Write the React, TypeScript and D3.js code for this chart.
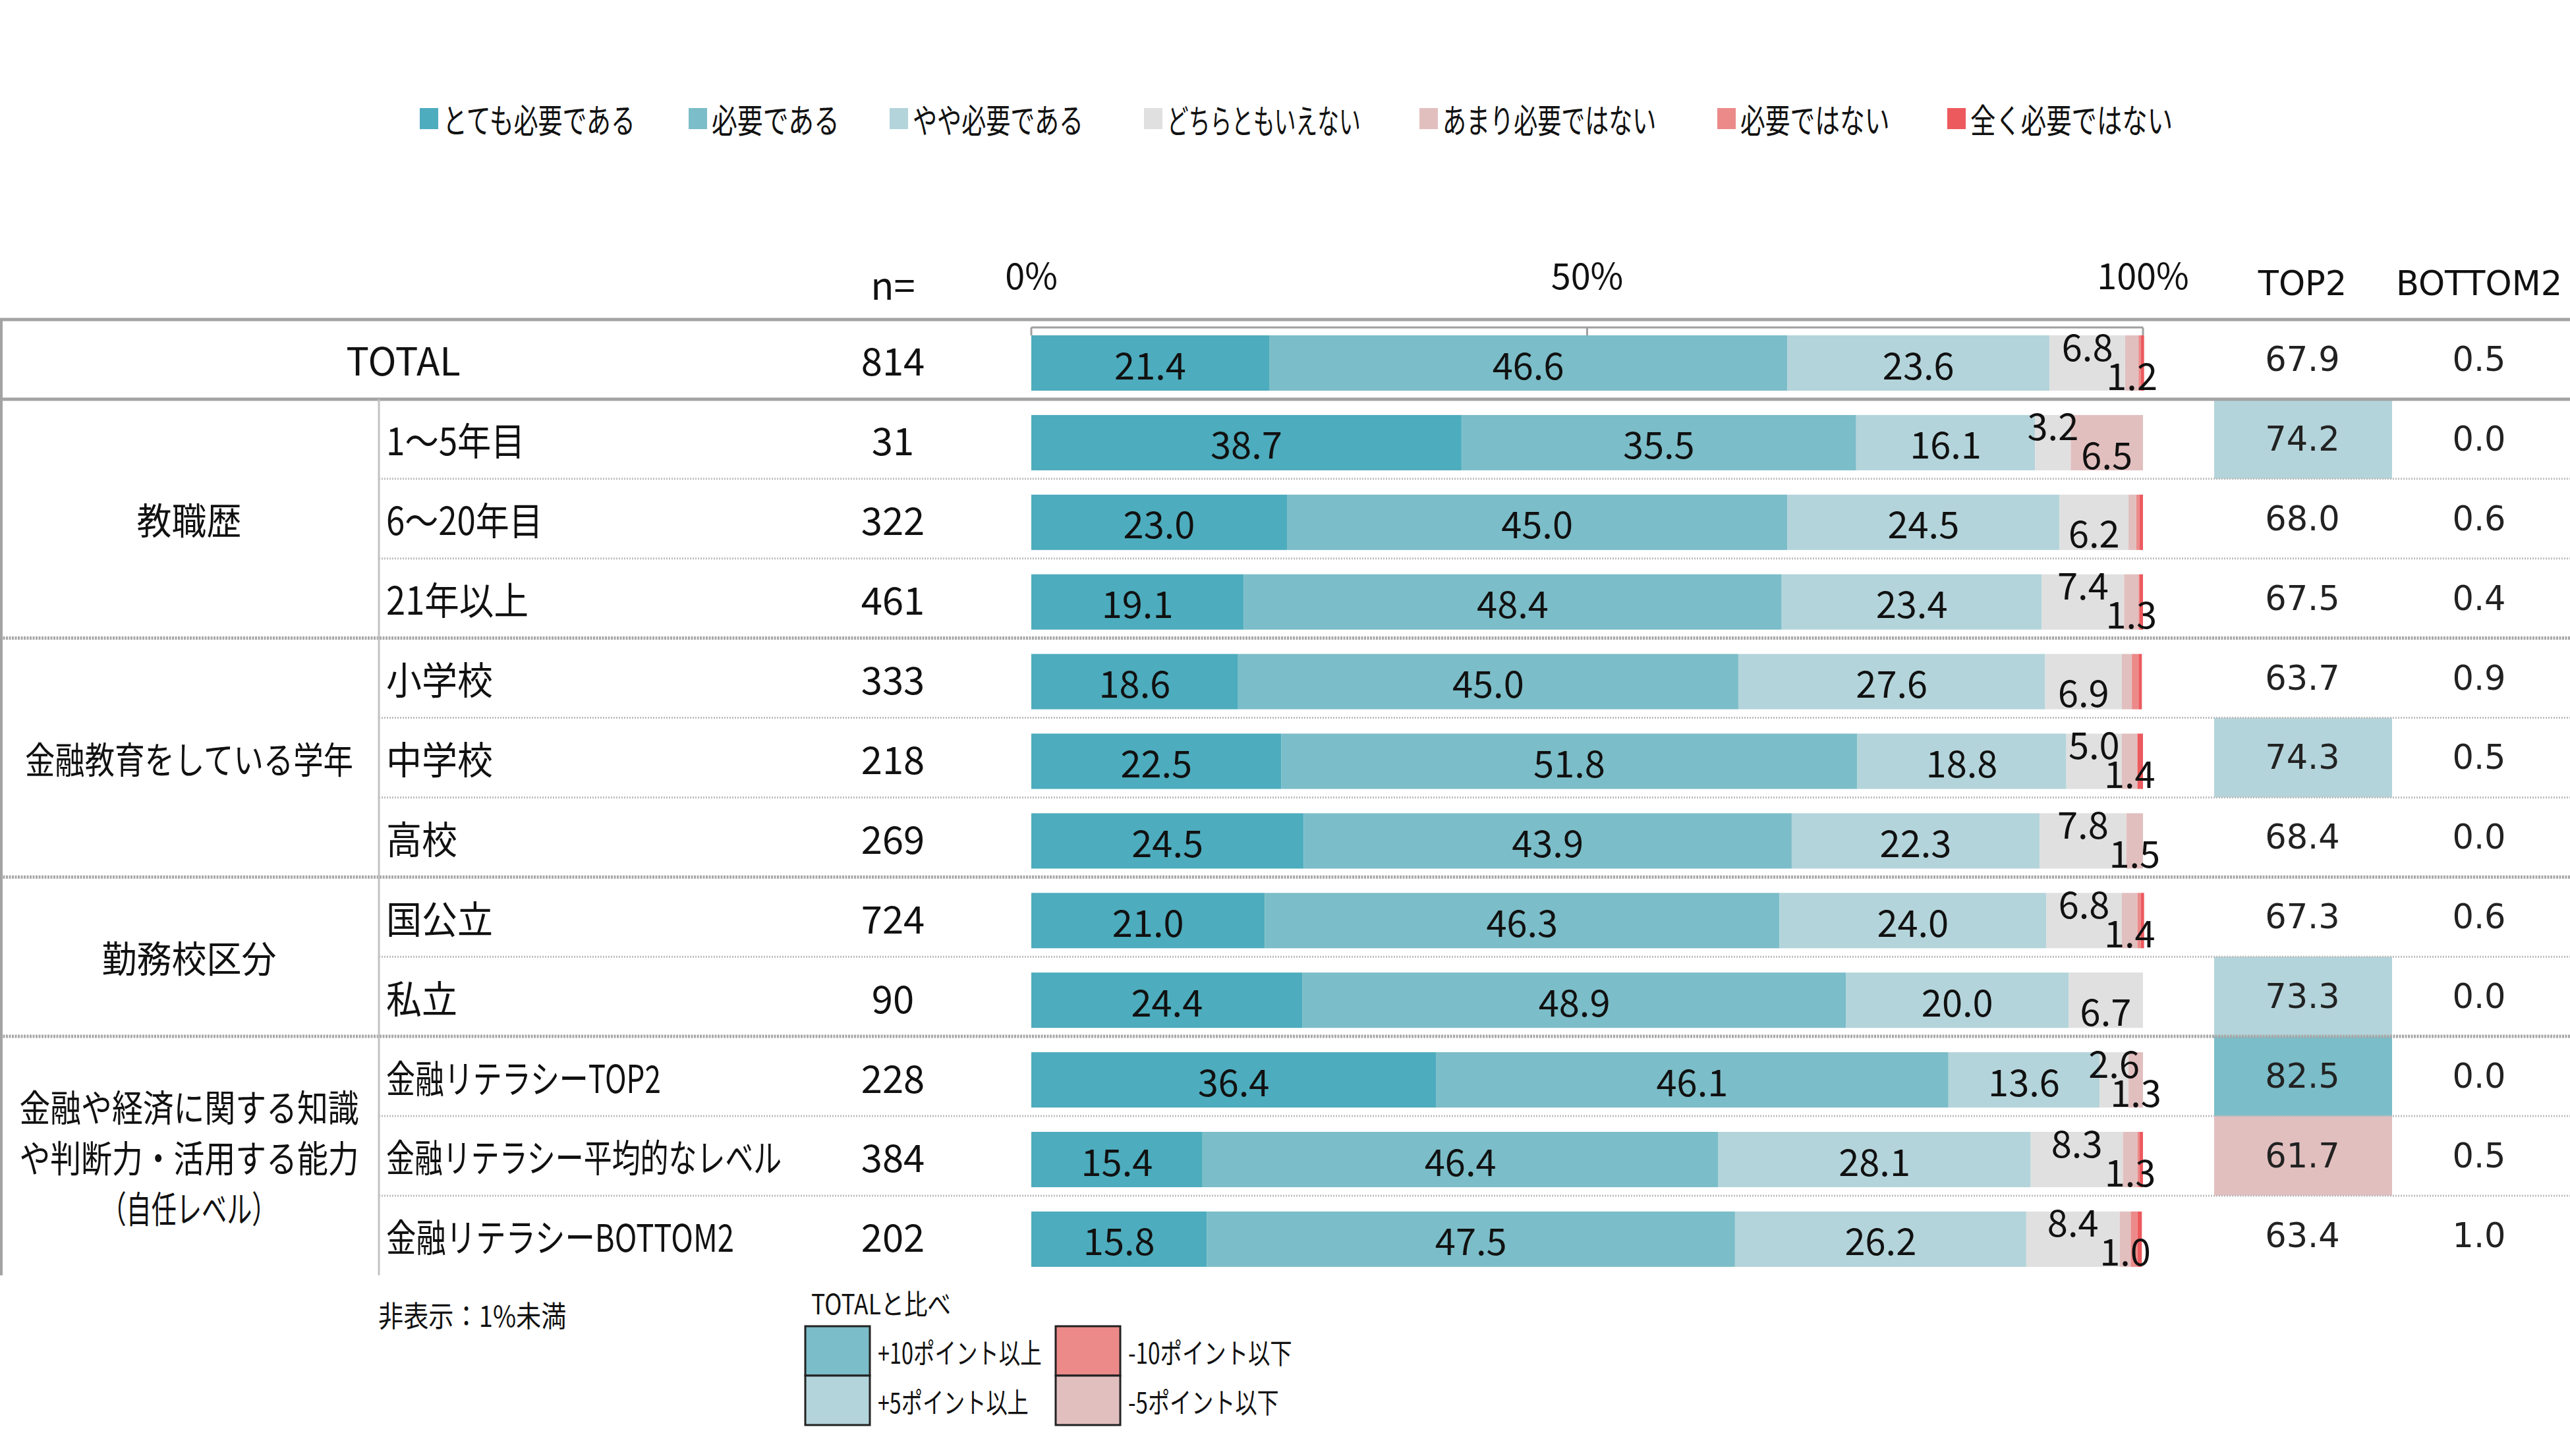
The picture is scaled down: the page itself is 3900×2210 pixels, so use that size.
import React, { useEffect, useLayoutEffect, useRef } from 'react';
import * as d3 from 'd3';

// ---------- DATA ----------
const categories = [
  'TOTAL',
  '1～5年目',
  '6～20年目',
  '21年以上',
  '小学校',
  '中学校',
  '高校',
  '国公立',
  '私立',
  '金融リテラシーTOP2',
  '金融リテラシー平均的なレベル',
  '金融リテラシーBOTTOM2',
];
const nValues = [814, 31, 322, 461, 333, 218, 269, 724, 90, 228, 384, 202];

const seriesNames = [
  'とても必要である',
  '必要である',
  'やや必要である',
  'どちらともいえない',
  'あまり必要ではない',
  '必要ではない',
  '全く必要ではない',
];
const veryNeeded = [21.4, 38.7, 23.0, 19.1, 18.6, 22.5, 24.5, 21.0, 24.4, 36.4, 15.4, 15.8];
const needed = [46.6, 35.5, 45.0, 48.4, 45.0, 51.8, 43.9, 46.3, 48.9, 46.1, 46.4, 47.5];
const somewhatNeeded = [23.6, 16.1, 24.5, 23.4, 27.6, 18.8, 22.3, 24.0, 20.0, 13.6, 28.1, 26.2];
const neutral = [6.8, 3.2, 6.2, 7.4, 6.9, 5.0, 7.8, 6.8, 6.7, 2.6, 8.3, 8.4];
const notVery = [1.2, 6.5, 0.7, 1.3, 0.9, 1.4, 1.5, 1.4, 0.0, 1.3, 1.3, 1.0];
const notNeeded = [0.2, 0.0, 0.3, 0.1, 0.6, 0.0, 0.0, 0.3, 0.0, 0.0, 0.2, 0.6];
const notAtAll = [0.3, 0.0, 0.3, 0.3, 0.3, 0.5, 0.0, 0.3, 0.0, 0.0, 0.3, 0.4];
const seriesValues = [veryNeeded, needed, somewhatNeeded, neutral, notVery, notNeeded, notAtAll];

const top2 = [67.9, 74.2, 68.0, 67.5, 63.7, 74.3, 68.4, 67.3, 73.3, 82.5, 61.7, 63.4];
const bottom2 = [0.5, 0.0, 0.6, 0.4, 0.9, 0.5, 0.0, 0.6, 0.0, 0.0, 0.5, 1.0];

const axisTicks = [0, 50, 100];

const groups = [
  { lines: ['教職歴'], start: 1, end: 3 },
  { lines: ['金融教育をしている学年'], start: 4, end: 6 },
  { lines: ['勤務校区分'], start: 7, end: 8 },
  { lines: ['金融や経済に関する知識', 'や判断力・活用する能力', '（自任レベル）'], start: 9, end: 11 },
];

const compareLegend = [
  { label: '+10ポイント以上', kind: 'p10' },
  { label: '+5ポイント以上', kind: 'p5' },
  { label: '-10ポイント以下', kind: 'm10' },
  { label: '-5ポイント以下', kind: 'm5' },
];

// ---------- STYLE ----------
const colors = ['#4DACBD', '#7BBDC8', '#B3D4DA', '#E0E0E0', '#E2BFBF', '#EC8A8A', '#EC5A5E'];
const highlightColors: Record<string, string> = {
  p10: '#7BBDC8',
  p5: '#B3D4DA',
  m10: '#EC8A8A',
  m5: '#E2BFBF',
};
const JP = '"Noto Sans CJK JP", "Noto Sans", sans-serif';
const DV = '"DejaVu Sans", sans-serif';

const W = 3900;
const H = 2210;
const tableTop = 485;
const rowH = 120.9;
const tableBottom = tableTop + rowH * categories.length;

// approximate width (in em) of a string in a condensed UI font with proportional kana
function emWidth(s: string): number {
  let w = 0;
  for (const ch of s) {
    const c = ch.codePointAt(0)!;
    if ((c >= 0x3040 && c <= 0x30ff) || ch === 'ー') w += 0.68;
    else if (ch === '・' || ch === '：' || ch === '（' || ch === '）') w += 0.5;
    else if (ch === '～') w += 0.9;
    else if (c >= 0x3000) w += 1.0;
    else if (ch === '%') w += 0.8;
    else if (ch === 'M') w += 0.8;
    else if (ch === 'O') w += 0.7;
    else if (/[A-Z]/.test(ch)) w += 0.56;
    else w += 0.5;
  }
  return w;
}

// Text that is squeezed horizontally (after measuring) to a target width
function JText(props: {
  x: number;
  y: number;
  size: number;
  wsize?: number;
  anchor?: 'start' | 'middle' | 'end';
  children: string;
}) {
  const len = emWidth(props.children) * (props.wsize || props.size);
  return (
    <text
      x={props.x}
      y={props.y}
      textAnchor={props.anchor || 'start'}
      dominantBaseline="central"
      fontFamily={JP}
      fontSize={props.size}
      fill="#111"
      data-tw={len}
      data-tx={props.x}
    >
      {props.children}
    </text>
  );
}

export default function App() {
  const svgRef = useRef<SVGSVGElement>(null);

  useEffect(() => {
    document.body.style.margin = '0';
  }, []);

  useLayoutEffect(() => {
    if (!svgRef.current) return;
    d3.select(svgRef.current)
      .selectAll<SVGTextElement, unknown>('text[data-tw]')
      .each(function () {
        const el = this;
        const target = +el.getAttribute('data-tw')!;
        const tx = +el.getAttribute('data-tx')!;
        const natural = el.getComputedTextLength();
        if (natural > 0) {
          const s = target / natural;
          el.setAttribute('transform', `translate(${tx},0) scale(${s},1) translate(${-tx},0)`);
        }
      });
  });

  const x = d3.scaleLinear().domain([0, 100]).range([1565, 3252]);
  const y = d3
    .scaleBand<number>()
    .domain(d3.range(categories.length))
    .range([tableTop, tableBottom])
    .padding(0);

  const table = categories.map((c, i) => {
    const row: any = { idx: i };
    seriesNames.forEach((s, k) => (row[s] = seriesValues[k][i]));
    return row;
  });
  const stacked = d3.stack<any>().keys(seriesNames)(table);

  const barOff = 24;
  const barH = 84;

  const classify = (i: number) => {
    const d = top2[i] - top2[0];
    if (i === 0) return null;
    if (d >= 10) return 'p10';
    if (d >= 5) return 'p5';
    if (d <= -10) return 'm10';
    if (d <= -5) return 'm5';
    return null;
  };

  const legendX = [637, 1045, 1350, 1736, 2154, 2606, 2955];
  const groupStarts = new Set(groups.map((g) => g.start));

  return (
    <svg
      ref={svgRef}
      width={W}
      height={H}
      viewBox={`0 0 ${W} ${H}`}
      style={{ display: 'block', background: '#fff' }}
    >
      {/* Legend */}
      {seriesNames.map((s, k) => (
        <g key={s}>
          <rect x={legendX[k]} y={164} width={28} height={32} fill={colors[k]} />
          <JText x={legendX[k] + 35} y={180} size={51} wsize={48}>
            {s}
          </JText>
        </g>
      ))}

      {/* Header */}
      <text x={1355} y={430} textAnchor="middle" dominantBaseline="central" fontFamily={JP} fontSize={58} fill="#111">
        n=
      </text>
      {axisTicks.map((t) => (
        <text
          key={t}
          x={x(t)}
          y={415}
          textAnchor="middle"
          dominantBaseline="central"
          fontFamily={JP}
          fontSize={54}
          fill="#111"
        >
          {t}%
        </text>
      ))}
      <text x={3494} y={430} textAnchor="middle" dominantBaseline="central" fontFamily={DV} fontSize={51} fill="#111">
        TOP2
      </text>
      <text x={3762} y={430} textAnchor="middle" dominantBaseline="central" fontFamily={DV} fontSize={51} fill="#111">
        BOTTOM2
      </text>

      {/* TOP2 highlight cells */}
      {categories.map((c, i) => {
        const k = classify(i);
        if (!k) return null;
        return (
          <rect key={'hl' + i} x={3360} y={y(i)!} width={270} height={y.bandwidth()} fill={highlightColors[k]} />
        );
      })}

      {/* Axis bracket */}
      <line x1={x(0)} x2={x(100)} y1={497} y2={497} stroke="#A0A0A0" strokeWidth={3} />
      {axisTicks.map((t) => (
        <line key={'tk' + t} x1={x(t)} x2={x(t)} y1={497} y2={y(0)! + barOff} stroke="#A0A0A0" strokeWidth={3} />
      ))}

      {/* Bars */}
      {stacked.map((layer, k) => (
        <g key={'s' + k} fill={colors[k]}>
          {layer.map((d, i) => {
            const w = x(d[1]) - x(d[0]);
            if (w <= 0) return null;
            return <rect key={i} x={x(d[0])} y={y(i)! + barOff} width={w} height={barH} />;
          })}
        </g>
      ))}

      {/* Bar labels */}
      {stacked.map((layer, k) => (
        <g key={'l' + k}>
          {layer.map((d, i) => {
            const v = seriesValues[k][i];
            if (v < 1) return null;
            const cy = y(i)! + barOff + barH / 2;
            let dy = 0;
            if (k === 3) dy = notVery[i] >= 1 ? -28 : 14;
            if (k === 4) dy = 16;
            return (
              <text
                key={i}
                x={(x(d[0]) + x(d[1])) / 2}
                y={cy + dy}
                textAnchor="middle"
                dominantBaseline="central"
                fontFamily={JP}
                fontSize={56}
                fill="#111"
              >
                {v.toFixed(1)}
              </text>
            );
          })}
        </g>
      ))}

      {/* Row labels, n, TOP2, BOTTOM2 */}
      {categories.map((c, i) => {
        const cy = y(i)! + y.bandwidth() / 2;
        return (
          <g key={'r' + i}>
            {i === 0 ? (
              <text x={612} y={cy} textAnchor="middle" dominantBaseline="central" fontFamily={JP} fontSize={58} fill="#111">
                {c}
              </text>
            ) : (
              <JText x={586} y={cy} size={58} wsize={54}>
                {c}
              </JText>
            )}
            <text x={1355} y={cy} textAnchor="middle" dominantBaseline="central" fontFamily={JP} fontSize={58} fill="#111">
              {nValues[i]}
            </text>
            <text x={3494} y={cy} textAnchor="middle" dominantBaseline="central" fontFamily={DV} fontSize={51} fill="#222">
              {top2[i].toFixed(1)}
            </text>
            <text x={3762} y={cy} textAnchor="middle" dominantBaseline="central" fontFamily={DV} fontSize={51} fill="#222">
              {bottom2[i].toFixed(1)}
            </text>
          </g>
        );
      })}

      {/* Group labels */}
      {groups.map((g, gi) => {
        const top = y(g.start)!;
        const bottom = y(g.end)! + y.bandwidth();
        const cy = (top + bottom) / 2;
        const lh = 77;
        return (
          <g key={'g' + gi}>
            {g.lines.map((ln, li) => (
              <JText
                key={li}
                x={287}
                y={cy + (li - (g.lines.length - 1) / 2) * lh}
                size={56}
                wsize={53}
                anchor="middle"
              >
                {ln}
              </JText>
            ))}
          </g>
        );
      })}

      {/* Table lines */}
      <line x1={0} x2={W} y1={tableTop} y2={tableTop} stroke="#A3A3A3" strokeWidth={5} />
      <line x1={0} x2={W} y1={y(1)!} y2={y(1)!} stroke="#A3A3A3" strokeWidth={5} />
      {categories.map((c, i) => {
        if (i < 2) return null;
        const yy = y(i)!;
        if (groupStarts.has(i)) {
          return (
            <line key={'hl' + i} x1={0} x2={W} y1={yy} y2={yy} stroke="#A8A8A8" strokeWidth={5} strokeDasharray="3 1.5" />
          );
        }
        return (
          <line key={'hl' + i} x1={575} x2={W} y1={yy} y2={yy} stroke="#BDBDBD" strokeWidth={3} strokeDasharray="2 2" />
        );
      })}
      <line x1={2} x2={2} y1={tableTop} y2={tableBottom} stroke="#A3A3A3" strokeWidth={4} />
      <line x1={575} x2={575} y1={y(1)!} y2={tableBottom} stroke="#C2C2C2" strokeWidth={3} />

      {/* Notes */}
      <JText x={574} y={1995} size={44} wsize={42}>
        非表示：1%未満
      </JText>
      <JText x={1231} y={1977} size={42} wsize={40}>
        TOTALと比べ
      </JText>
      {compareLegend.map((c, i) => {
        const col = Math.floor(i / 2);
        const row = i % 2;
        const bx = 1222 + col * 380;
        const by = 2013 + row * 75;
        return (
          <g key={c.kind}>
            <rect x={bx} y={by} width={98} height={75} fill={highlightColors[c.kind]} stroke="#222" strokeWidth={3} />
            <JText x={bx + 110} y={by + 38} size={43} wsize={40}>
              {c.label}
            </JText>
          </g>
        );
      })}
    </svg>
  );
}
